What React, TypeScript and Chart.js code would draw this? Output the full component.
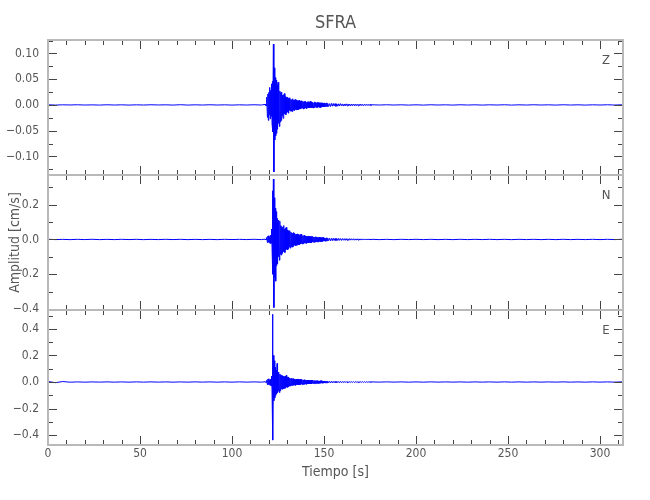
import React, { useEffect, useRef } from 'react';
import { Chart, registerables } from 'chart.js';

Chart.register(...registerables);

const TITLE = 'SFRA';
const X_LABEL = 'Tiempo [s]';
const Y_LABEL = 'Amplitud [cm/s]';
const COMPONENTS = ['Z', 'N', 'E'];

const X_MAX = 312.5;
const X_TICKS = [0, 50, 100, 150, 200, 250, 300];
const X_MINOR_STEP = 10;

const Z_TICKS = [-0.1, -0.05, 0, 0.05, 0.1];
const N_TICKS = [-0.4, -0.2, 0, 0.2];
const E_TICKS = [-0.4, -0.2, 0, 0.2, 0.4];
const Z_RANGE = [-0.136, 0.126];
const N_RANGE = [-0.406, 0.371];
const E_RANGE = [-0.474, 0.542];
const Z_MINOR_STEP = 0.025;
const N_MINOR_STEP = 0.1;
const E_MINOR_STEP = 0.1;
const Z_DECIMALS = 2;
const N_DECIMALS = 1;
const E_DECIMALS = 1;

// sampling of the hand-read trace segments (start time, step in seconds)
const PRE_T0 = 0, PRE_DT = 4;
const EVENT_T0 = 118, EVENT_DT = 0.25;
const CODA_T0 = 152, CODA_DT = 0.5;
const POST_T0 = 176, POST_DT = 4;

// ---------- Z component ----------
const zPre = [0.0002, -0.0003, 0.0002, -0.0001, 0.0003, -0.0002, 0.0001, -0.0003, 0.0003, -0.0002, 0.0002, -0.0003, 0.0002, -0.0002, 0.0003, -0.0001, 0.0002, -0.0003, 0.0004, -0.0003, 0.0002, -0.0002, 0.0003, -0.0002, 0.0002, -0.0003, 0.0002, -0.0002, 0.0003, -0.0002];
const zEvent = [
  0.001, -0.001, 0.001, -0.002,
  0.015, -0.024, 0.021, -0.030,
  0.024, -0.019, 0.034, -0.027,
  0.028, -0.022, 0.041, -0.035,
  0.046, -0.052, 0.118, -0.130,
  0.072, -0.068, 0.053, -0.060,
  0.048, -0.055, 0.039, -0.047,
  0.044, -0.036, 0.031, -0.042,
  0.027, -0.033, 0.024, -0.030,
  0.025, -0.021, 0.019, -0.026,
  0.020, -0.018, 0.022, -0.017,
  0.016, -0.019, 0.014, -0.015,
  0.015, -0.013, 0.012, -0.016,
  0.013, -0.011, 0.014, -0.012,
  0.011, -0.012, 0.010, -0.013,
  0.012, -0.010, 0.009, -0.011,
  0.010, -0.009, 0.011, -0.008,
  0.009, -0.010, 0.008, -0.009,
  0.008, -0.009, 0.009, -0.007,
  0.007, -0.008, 0.008, -0.007,
  0.008, -0.006, 0.007, -0.008,
  0.006, -0.007, 0.007, -0.006,
  0.007, -0.006, 0.005, -0.007,
  0.006, -0.005, 0.006, -0.006,
  0.005, -0.006, 0.007, -0.005,
  0.006, -0.005, 0.005, -0.006,
  0.005, -0.006, 0.004, -0.005,
  0.006, -0.004, 0.005, -0.005,
  0.004, -0.005, 0.005, -0.004,
  0.005, -0.004, 0.004, -0.005,
  0.004, -0.005, 0.004, -0.003,
  0.004, -0.004, 0.003, -0.004,
  0.003, -0.004, 0.004, -0.003,
  0.003, -0.003, 0.004, -0.003,
];
const zCoda = [0.003, -0.003, 0.0025, -0.003, 0.003, -0.0025, 0.0028, -0.0022, 0.0025, -0.0027, 0.002, -0.0025, 0.0022, -0.002, 0.0025, -0.0018, 0.002, -0.0022, 0.0018, -0.002, 0.0021, -0.0017, 0.0019, -0.0018, 0.0016, -0.0019, 0.0017, -0.0015, 0.0018, -0.0016, 0.0015, -0.0017, 0.0014, -0.0016, 0.0015, -0.0013, 0.0016, -0.0014, 0.0012, -0.0015, 0.0013, -0.0012, 0.0014, -0.0011, 0.0012, -0.0013, 0.0011, -0.0012];
const zPost = [0.0003, -0.0002, 0.0003, -0.0002, 0.0002, -0.0003, 0.0002, -0.0003, 0.0003, -0.0002, 0.0002, -0.0003, 0.0003, -0.0002, 0.0002, -0.0003, 0.0002, -0.0002, 0.0003, -0.0003, 0.0002, -0.0002, 0.0003, -0.0002, 0.0002, -0.0003, 0.0003, -0.0002, 0.0002, -0.0003, 0.0002, -0.0002, 0.0003, -0.0002, 0.0002];

// ---------- N component ----------
const nPre = [0.001, -0.0008, 0.0006, -0.001, 0.0008, -0.0006, 0.001, -0.0009, 0.0006, -0.0008, 0.0009, -0.0006, 0.0008, -0.001, 0.0006, -0.0008, 0.001, -0.0006, 0.0008, -0.0009, 0.0006, -0.0008, 0.0006, -0.001, 0.0009, -0.0006, 0.0008, -0.0006, 0.001, -0.0008];
const nEvent = [
  0.002, -0.002, 0.003, -0.002,
  0.012, -0.018, 0.020, -0.015,
  0.022, -0.019, 0.016, -0.024,
  0.025, -0.021, 0.060, -0.045,
  0.280, -0.200, 0.348, -0.392,
  0.240, -0.220, 0.180, -0.240,
  0.160, -0.150, 0.120, -0.140,
  0.110, -0.100, 0.090, -0.120,
  0.105, -0.085, 0.080, -0.090,
  0.075, -0.080, 0.070, -0.065,
  0.080, -0.070, 0.060, -0.075,
  0.065, -0.060, 0.070, -0.055,
  0.055, -0.060, 0.050, -0.052,
  0.050, -0.045, 0.048, -0.050,
  0.042, -0.040, 0.038, -0.044,
  0.035, -0.040, 0.040, -0.033,
  0.036, -0.032, 0.030, -0.035,
  0.030, -0.034, 0.032, -0.028,
  0.028, -0.030, 0.026, -0.029,
  0.027, -0.025, 0.030, -0.024,
  0.024, -0.026, 0.022, -0.025,
  0.022, -0.020, 0.025, -0.021,
  0.020, -0.022, 0.019, -0.020,
  0.018, -0.020, 0.017, -0.019,
  0.019, -0.017, 0.016, -0.018,
  0.016, -0.018, 0.017, -0.015,
  0.015, -0.016, 0.014, -0.016,
  0.014, -0.015, 0.016, -0.013,
  0.013, -0.014, 0.012, -0.014,
  0.012, -0.013, 0.014, -0.011,
  0.011, -0.012, 0.010, -0.012,
  0.010, -0.011, 0.012, -0.009,
  0.009, -0.010, 0.009, -0.010,
  0.008, -0.009, 0.010, -0.008,
];
const nCoda = [0.008, -0.007, 0.007, -0.008, 0.0065, -0.007, 0.007, -0.006, 0.006, -0.0065, 0.0055, -0.006, 0.006, -0.005, 0.005, -0.0055, 0.0055, -0.0045, 0.0045, -0.005, 0.005, -0.0045, 0.004, -0.0048, 0.0045, -0.004, 0.0042, -0.0038, 0.004, -0.0042, 0.0036, -0.004, 0.0038, -0.0034, 0.0035, -0.0037, 0.0033, -0.0035, 0.0034, -0.003, 0.0032, -0.0033, 0.003, -0.0031, 0.0031, -0.0028, 0.0029, -0.003];
const nPost = [0.001, -0.0009, 0.0007, -0.001, 0.0009, -0.0007, 0.001, -0.0008, 0.0008, -0.0009, 0.0007, -0.0009, 0.001, -0.0008, 0.0008, -0.0007, 0.0009, -0.0009, 0.0008, -0.001, 0.0009, -0.0007, 0.0008, -0.0009, 0.0008, -0.0009, 0.001, -0.0008, 0.0007, -0.0008, 0.0009, -0.0008, 0.0009, -0.0007, 0.0008];

// ---------- E component ----------
const ePre = [0.004, -0.005, 0.0035, -0.0012, 0.0008, -0.001, 0.0009, -0.0008, 0.001, -0.0009, 0.0008, -0.001, 0.0009, -0.0008, 0.001, -0.0008, 0.0009, -0.001, 0.0008, -0.0009, 0.001, -0.0008, 0.0009, -0.001, 0.0008, -0.0009, 0.001, -0.0008, 0.0009, -0.0009];
const eEvent = [
  0.002, -0.002, 0.002, -0.003,
  0.014, -0.020, 0.022, -0.018,
  0.025, -0.020, 0.018, -0.026,
  0.022, -0.028, 0.045, -0.060,
  0.510, -0.437, 0.200, -0.140,
  0.160, -0.120, 0.110, -0.100,
  0.090, -0.087, 0.140, -0.080,
  0.075, -0.070, 0.065, -0.080,
  0.060, -0.065, 0.055, -0.050,
  0.050, -0.055, 0.048, -0.045,
  0.045, -0.050, 0.040, -0.048,
  0.042, -0.040, 0.050, -0.038,
  0.035, -0.040, 0.038, -0.033,
  0.030, -0.032, 0.028, -0.030,
  0.027, -0.025, 0.028, -0.026,
  0.025, -0.024, 0.026, -0.022,
  0.023, -0.025, 0.021, -0.022,
  0.022, -0.020, 0.023, -0.019,
  0.020, -0.021, 0.018, -0.020,
  0.019, -0.018, 0.020, -0.017,
  0.017, -0.019, 0.016, -0.018,
  0.016, -0.017, 0.018, -0.015,
  0.015, -0.016, 0.014, -0.016,
  0.014, -0.015, 0.015, -0.013,
  0.013, -0.014, 0.012, -0.014,
  0.012, -0.013, 0.014, -0.011,
  0.012, -0.011, 0.010, -0.012,
  0.011, -0.012, 0.010, -0.010,
  0.010, -0.011, 0.011, -0.009,
  0.009, -0.010, 0.008, -0.010,
  0.009, -0.008, 0.010, -0.008,
  0.008, -0.009, 0.007, -0.008,
  0.007, -0.008, 0.008, -0.007,
  0.007, -0.007, 0.006, -0.007,
];
const eCoda = [0.006, -0.0065, 0.0058, -0.006, 0.0055, -0.0058, 0.0052, -0.0055, 0.005, -0.0052, 0.0048, -0.005, 0.0046, -0.0048, 0.0045, -0.0044, 0.0043, -0.0045, 0.0041, -0.0042, 0.004, -0.0041, 0.0038, -0.004, 0.0037, -0.0038, 0.0036, -0.0036, 0.0035, -0.0034, 0.0033, -0.0035, 0.0032, -0.0033, 0.0031, -0.0032, 0.003, -0.0031, 0.0029, -0.003, 0.0028, -0.0029, 0.0027, -0.0028, 0.0026, -0.0027, 0.0025, -0.0026];
const ePost = [0.0009, -0.0008, 0.001, -0.0008, 0.0009, -0.001, 0.0008, -0.0009, 0.001, -0.0008, 0.0009, -0.0008, 0.0009, -0.001, 0.0009, -0.0008, 0.0008, -0.0009, 0.001, -0.0008, 0.0009, -0.001, 0.0008, -0.0008, 0.0009, -0.0008, 0.001, -0.0009, 0.0008, -0.001, 0.0009, -0.0008, 0.0008, -0.0009, 0.001];

const FONT = '"Liberation Sans Narrow", "DejaVu Sans Condensed", "Arial Narrow", sans-serif';
const TEXT_COLOR = '#555555';
const FRAME_COLOR = '#b9b9b9';
const TICK_COLOR = '#444444';
const TRACE_COLOR = '#0000ff';

function segment(t0: number, dt: number, values: number[]) {
  return values.map((v, i) => ({ x: t0 + i * dt, y: v }));
}

function trace(pre: number[], event: number[], coda: number[], post: number[]) {
  return [
    ...segment(PRE_T0, PRE_DT, pre),
    ...segment(EVENT_T0, EVENT_DT, event),
    ...segment(CODA_T0, CODA_DT, coda),
    ...segment(POST_T0, POST_DT, post),
  ];
}

const PANELS = [
  { id: 'yZ', label: COMPONENTS[0], ticks: Z_TICKS, range: Z_RANGE, minor: Z_MINOR_STEP, dec: Z_DECIMALS, data: trace(zPre, zEvent, zCoda, zPost), weight: 3 },
  { id: 'yN', label: COMPONENTS[1], ticks: N_TICKS, range: N_RANGE, minor: N_MINOR_STEP, dec: N_DECIMALS, data: trace(nPre, nEvent, nCoda, nPost), weight: 2 },
  { id: 'yE', label: COMPONENTS[2], ticks: E_TICKS, range: E_RANGE, minor: E_MINOR_STEP, dec: E_DECIMALS, data: trace(ePre, eEvent, eCoda, ePost), weight: 1 },
];

function fmt(v: number, dec: number) {
  const s = Math.abs(v).toFixed(dec);
  return v < 0 ? '\u2212' + s : s;
}

const framePlugin = {
  id: 'seisFrames',
  afterDraw(chart: any) {
    const ctx = chart.ctx as CanvasRenderingContext2D;
    const xs = chart.scales.x;
    const left = chart.chartArea.left;
    const right = chart.chartArea.right;
    ctx.save();
    PANELS.forEach((p) => {
      const ys = chart.scales[p.id];
      const top = ys.top;
      const bottom = ys.bottom;
      ctx.strokeStyle = TICK_COLOR;
      ctx.lineWidth = 1;
      ctx.beginPath();
      for (let k = 0; k * X_MINOR_STEP <= X_MAX; k++) {
        const t = k * X_MINOR_STEP;
        const px = Math.round(xs.getPixelForValue(t)) + 0.5;
        const len = t % 50 === 0 ? 9 : 5;
        ctx.moveTo(px, top);
        ctx.lineTo(px, top + len);
        ctx.moveTo(px, bottom);
        ctx.lineTo(px, bottom - len);
      }
      const kMin = Math.ceil(p.range[0] / p.minor - 1e-9);
      const kMax = Math.floor(p.range[1] / p.minor + 1e-9);
      for (let k = kMin; k <= kMax; k++) {
        const v = k * p.minor;
        const py = Math.round(ys.getPixelForValue(v)) + 0.5;
        const len = k % 2 === 0 ? 9 : 5;
        ctx.moveTo(left, py);
        ctx.lineTo(left + len, py);
        ctx.moveTo(right, py);
        ctx.lineTo(right - len, py);
      }
      ctx.stroke();
      ctx.strokeStyle = FRAME_COLOR;
      ctx.lineWidth = 2;
      ctx.strokeRect(left, top, right - left, bottom - top);

      ctx.fillStyle = TEXT_COLOR;
      ctx.font = '13px ' + FONT;
      ctx.textAlign = 'center';
      ctx.textBaseline = 'middle';
      ctx.fillText(p.label, right - 17, top + 21);
    });

    const cx = (left + right) / 2;
    ctx.fillStyle = TEXT_COLOR;
    ctx.textAlign = 'center';
    ctx.textBaseline = 'middle';
    ctx.font = '18px ' + FONT;
    ctx.fillText(TITLE, cx, 23);
    ctx.font = '14px ' + FONT;
    ctx.fillText(X_LABEL, cx, 472);
    const cy = (chart.chartArea.top + chart.chartArea.bottom) / 2;
    ctx.translate(15, cy);
    ctx.rotate(-Math.PI / 2);
    ctx.fillText(Y_LABEL, 0, 0);
    ctx.restore();
  },
};

export default function App() {
  const canvasRef = useRef<HTMLCanvasElement | null>(null);

  useEffect(() => {
    if (!canvasRef.current) return;
    const scales: any = {
      x: {
        type: 'linear',
        position: 'bottom',
        min: 0,
        max: X_MAX,
        afterBuildTicks: (s: any) => {
          s.ticks = X_TICKS.map((v) => ({ value: v }));
        },
        afterFit: (s: any) => {
          s.height = 55;
        },
        ticks: {
          autoSkip: false,
          maxRotation: 0,
          padding: 2,
          color: TEXT_COLOR,
          font: { family: FONT, size: 12 },
          callback: (v: any) => String(v),
        },
        grid: { display: false, drawTicks: false },
        border: { display: false },
      },
    };
    PANELS.forEach((p) => {
      scales[p.id] = {
        type: 'linear',
        position: 'left',
        stack: 'panels',
        stackWeight: 1,
        weight: p.weight,
        offset: false,
        min: p.range[0],
        max: p.range[1],
        afterBuildTicks: (s: any) => {
          s.ticks = p.ticks.map((v) => ({ value: v }));
        },
        afterFit: (s: any) => {
          s.width = 48;
        },
        ticks: {
          autoSkip: false,
          padding: 9,
          color: TEXT_COLOR,
          font: { family: FONT, size: 12 },
          callback: (v: any) => fmt(Number(v), p.dec),
        },
        grid: { display: false, drawTicks: false },
        border: { display: false },
      };
    });

    const chart = new Chart(canvasRef.current, {
      type: 'line',
      data: {
        datasets: PANELS.map((p) => ({
          label: p.label,
          data: p.data,
          yAxisID: p.id,
          xAxisID: 'x',
          borderColor: TRACE_COLOR,
          borderWidth: 1,
          pointRadius: 0,
          tension: 0,
          fill: false,
        })),
      },
      options: {
        responsive: false,
        animation: false,
        devicePixelRatio: 1,
        layout: { padding: { left: 0, right: 27, top: 40, bottom: 0 } },
        plugins: {
          legend: { display: false },
          tooltip: { enabled: false },
          title: { display: false },
        },
        events: [],
        scales,
      },
      plugins: [framePlugin],
    });
    return () => chart.destroy();
  }, []);

  return (
    <div style={{ position: 'fixed', left: 0, top: 0, width: 650, height: 500, background: '#ffffff' }}>
      <canvas ref={canvasRef} width={650} height={500} style={{ width: 650, height: 500 }} />
    </div>
  );
}
